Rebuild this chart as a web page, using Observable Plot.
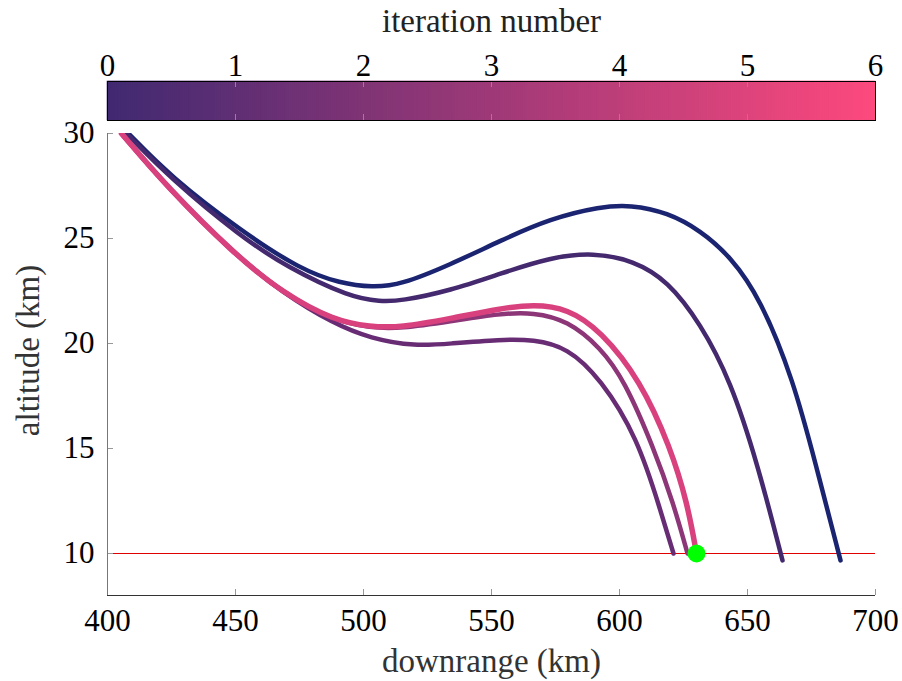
<!DOCTYPE html>
<html><head><meta charset="utf-8">
<script src="https://cdn.jsdelivr.net/npm/d3@7"></script>
<script src="https://cdn.jsdelivr.net/npm/@observablehq/plot@0.6"></script>
<style>
body{margin:0;background:#fff;}
#wrap{position:relative;width:902px;height:681px;}
#wrap svg{position:absolute;left:0;}
#wrap svg, #wrap svg text{font-family:'Liberation Serif','DejaVu Serif',serif !important;}
</style></head><body><div id="wrap"></div>
<script>
// ---- data ----
const iterations = [0, 1, 2, 3, 6];
const iterColors = ["#1b2470", "#44296e", "#682c75", "#8c3577", "#d8417d"];

const downrange0 = [408.2, 424.6, 451.95, 475.39, 491.02, 503.52, 514.45, 533.98, 553.52, 573.05, 592.58, 604.3, 618.75, 631.64, 643.36, 655.08, 667.97, 676.56, 686.33];
const altitude0  = [30, 27.95, 25.38, 23.52, 22.86, 22.67, 22.79, 23.76, 24.9, 25.95, 26.52, 26.6, 26.24, 25.38, 24.14, 22.14, 18.24, 14.29, 9.67];

const downrange1 = [407.42, 424.61, 451.95, 470.31, 494.92, 506.64, 514.45, 533.98, 553.52, 573.05, 589.84, 605.47, 618.75, 631.64, 643.36, 653.91, 663.67];
const altitude1  = [30, 27.86, 25.1, 23.62, 22.19, 22.0, 22.02, 22.52, 23.33, 24.1, 24.33, 23.95, 23.0, 20.95, 18.24, 14.29, 9.67];

const downrange2 = [405.47, 423.44, 449.22, 468.75, 488.28, 502.73, 520.31, 533.98, 553.52, 566.41, 579.69, 592.58, 607.03, 616.02, 621.09];
const altitude2  = [30, 27.43, 24.29, 22.38, 20.95, 20.24, 19.86, 20.0, 20.19, 20.19, 19.81, 18.33, 15.52, 12.05, 10.0];

const downrange3 = [405.47, 423.44, 449.22, 468.75, 488.28, 502.73, 514.45, 533.98, 553.52, 566.41, 579.69, 592.58, 601.95, 613.28, 621.09, 626.56];
const altitude3  = [30, 27.43, 24.29, 22.38, 21.1, 20.74, 20.71, 21.05, 21.43, 21.48, 21.1, 19.81, 18.24, 15.05, 12.38, 10.0];

const downrange6 = [405.47, 423.44, 449.22, 468.75, 488.28, 502.73, 514.45, 533.98, 553.52, 566.41, 579.69, 592.58, 608.2, 619.92, 626.56, 630.08];
const altitude6  = [30, 27.43, 24.29, 22.38, 21.1, 20.79, 20.76, 21.19, 21.67, 21.86, 21.67, 20.62, 18.24, 15.05, 12.38, 10.0];

const xTicks = [400, 450, 500, 550, 600, 650, 700];
const yTicks = [10, 15, 20, 25, 30];
const cbarTicks = [0, 1, 2, 3, 4, 5, 6];
const cbarColors = ["#412a72", "#fd4a7e"];
const targetAltitude = 10;
const finalPoint = [{downrange: 630.08, altitude: 10}];

// ---- build table ----
const series = [[downrange0, altitude0], [downrange1, altitude1], [downrange2, altitude2], [downrange3, altitude3], [downrange6, altitude6]];
const rows = [];
series.forEach(([xs, ys], i) => xs.forEach((x, j) => rows.push({iter: iterations[i], x, y: ys[j]})));
const finalIter = iterations[iterations.length - 1];

const FONT = "'Liberation Serif', 'DejaVu Serif', serif";
const FS = 31;   // tick labels
const TS = 33;   // titles
const wrap = document.getElementById("wrap");

// ---- colorbar ----
const cbarH = 39;
const nSteps = 384;
const steps = d3.range(0, 6, 6 / nSteps);
const cbar = Plot.plot({
  width: 902, height: 125,
  marginLeft: 107, marginRight: 27, marginTop: 81, marginBottom: 5,
  style: {fontFamily: FONT, fontSize: FS + "px", color: "#000", background: "transparent", overflow: "visible"},
  x: {domain: [0, 6], label: null},
  color: {type: "linear", domain: [0, 6], range: cbarColors},
  marks: [
    Plot.rect(steps, {x1: d => d, x2: d => d + 6 / nSteps, fill: d => d, stroke: d => d, strokeWidth: 0.6}),
    Plot.ruleX([1, 2, 3, 4, 5], {stroke: "#8a8a8a", insetBottom: cbarH - 6}),
    Plot.ruleX([1, 2, 3, 4, 5], {stroke: "#8a8a8a", insetTop: cbarH - 6}),
    Plot.frame({stroke: "#000", strokeWidth: 1}),
    Plot.axisX({anchor: "top", ticks: cbarTicks, tickFormat: d3.format("d"), tickSize: 0, tickPadding: 6, fontSize: FS, label: null}),
    Plot.text(["iteration number"], {frameAnchor: "top", dy: -60, lineAnchor: "middle", fontSize: TS, fill: "#222"})
  ]
});
cbar.style.top = "0px";
wrap.appendChild(cbar);

// ---- main chart ----
const frameW = 768, frameH = 462;
const main = Plot.plot({
  width: 902, height: 556,
  marginLeft: 107, marginRight: 27, marginTop: 8, marginBottom: 86,
  style: {fontFamily: FONT, fontSize: FS + "px", color: "#000", background: "transparent", overflow: "visible"},
  x: {domain: [400, 700], label: null},
  y: {domain: [8, 30], label: null},
  color: {type: "ordinal", domain: iterations, range: iterColors},
  marks: [
    Plot.ruleY([targetAltitude], {stroke: "#e00000", strokeWidth: 1}),
    Plot.line(rows.filter(d => d.iter !== finalIter), {x: "x", y: "y", z: "iter", stroke: "iter", strokeWidth: 4.5, curve: "basis", clip: true}),
    Plot.line(rows.filter(d => d.iter === finalIter), {x: "x", y: "y", z: "iter", stroke: "iter", strokeWidth: 5.5, curve: "basis", clip: true}),
    Plot.tickY(yTicks, {y: d => d, stroke: "#999", insetRight: frameW - 6}),
    Plot.tickX(xTicks, {x: d => d, stroke: "#999", insetTop: frameH - 6}),
    Plot.ruleX([400], {stroke: "#777"}),
    Plot.ruleY([8], {stroke: "#333"}),
    Plot.axisY({ticks: yTicks, tickSize: 0, tickPadding: 13, fontSize: FS, label: null}),
    Plot.axisX({ticks: xTicks, tickSize: 0, tickPadding: 13, fontSize: FS, label: null}),
    Plot.text(["altitude (km)"], {frameAnchor: "left", rotate: -90, dx: -79, dy: -14, lineAnchor: "middle", textAnchor: "middle", fontSize: TS, fill: "#333"}),
    Plot.text(["downrange (km)"], {frameAnchor: "bottom", dy: 66, lineAnchor: "middle", fontSize: TS, fill: "#333"}),
    Plot.dot(finalPoint, {x: "downrange", y: "altitude", r: 9, fill: "#00ff00", stroke: "none"})
  ]
});
main.style.top = "125px";
wrap.appendChild(main);
</script>
</body></html>
